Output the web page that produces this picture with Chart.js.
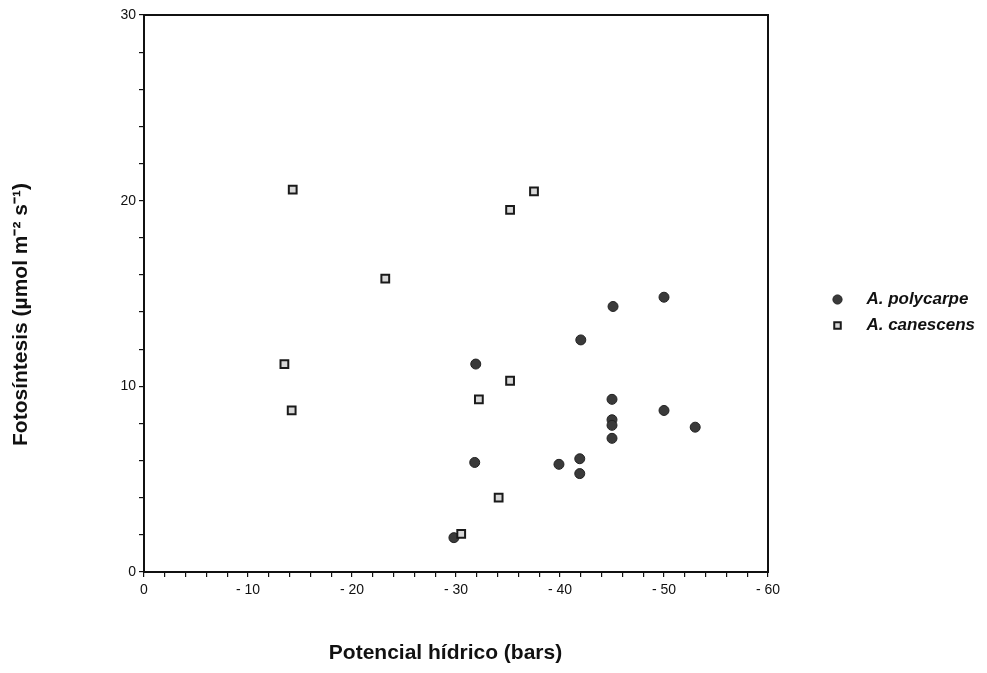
<!DOCTYPE html>
<html>
<head>
<meta charset="utf-8">
<script src="https://cdn.jsdelivr.net/npm/chart.js@4"></script>
<style>
  body { margin: 0; background: #fff; }
  #wrap { width: 987px; height: 673px; }
</style>
</head>
<body>
<div id="wrap"><canvas id="grafico"></canvas></div>
<script>
// datos (potencial hidrico en bars, fotosintesis en umol m-2 s-1)
const polycarpeX = [-45.1, -50.0, -42.0, -31.9, -45.0, -50.0, -45.0, -45.0, -53.0, -45.0, -31.8, -39.9, -41.9, -41.9, -29.8];
const polycarpeY = [14.3, 14.8, 12.5, 11.2, 9.3, 8.7, 8.2, 7.9, 7.8, 7.2, 5.9, 5.8, 6.1, 5.3, 1.85];

const canescensX = [-14.3, -23.2, -13.5, -14.2, -35.2, -37.5, -35.2, -32.2, -34.1, -30.5];
const canescensY = [20.6, 15.8, 11.2, 8.7, 19.5, 20.5, 10.3, 9.3, 4.0, 2.05];

const xTicks = [0, -10, -20, -30, -40, -50, -60];
const yTicks = [0, 10, 20, 30];

const toPoints = (xs, ys) => xs.map((x, i) => ({ x: x, y: ys[i] }));

const fuente = "'Liberation Sans', Arial, sans-serif";

// marco negro alrededor del area del grafico
const marco = {
    id: 'marco',
    beforeDatasetsDraw(chart) {
        const { ctx, chartArea: a } = chart;
        ctx.save();
        ctx.strokeStyle = '#111';
        ctx.lineWidth = 2;
        ctx.strokeRect(a.left, a.top, a.right - a.left, a.bottom - a.top);
        ctx.restore();
    }
};

const ctx = document.getElementById('grafico').getContext('2d');

new Chart(ctx, {
    type: 'scatter',
    data: {
        datasets: [{
            label: 'A. polycarpe',
            data: toPoints(polycarpeX, polycarpeY),
            pointStyle: 'circle',
            pointRadius: 5,
            backgroundColor: '#3a3a3a',
            borderColor: '#222',
            borderWidth: 1,
            order: 1
        }, {
            label: 'A. canescens',
            data: toPoints(canescensX, canescensY),
            pointStyle: 'rect',
            pointRadius: 5.5,
            backgroundColor: '#d8d8d8',
            borderColor: '#1a1a1a',
            borderWidth: 2,
            order: 0
        }]
    },
    options: {
        responsive: true,
        maintainAspectRatio: false,
        animation: false,
        layout: { padding: { top: 15, right: 3, bottom: 0, left: 0 } },
        plugins: {
            tooltip: { enabled: false },
            legend: {
                position: 'right',
                fullSize: false,
                title: { display: true, text: ' ', font: { size: 10 }, padding: 13 },
                labels: {
                    usePointStyle: true,
                    boxWidth: 17,
                    boxHeight: 6.5,
                    padding: 9,
                    color: '#111',
                    font: { family: fuente, size: 17, weight: 'bold', style: 'italic' },
                    sort: (a, b) => a.datasetIndex - b.datasetIndex,
                    generateLabels(chart) {
                        const items = Chart.defaults.plugins.legend.labels.generateLabels(chart);
                        items.forEach(it => { it.text = '\u2002\u2009' + it.text; });
                        return items;
                    }
                }
            }
        },
        scales: {
            x: {
                type: 'linear',
                reverse: true,
                min: -60,
                max: 0,
                border: { display: false },
                grid: { display: true, drawOnChartArea: false, drawTicks: true, tickLength: 5, color: '#111', lineWidth: 1.2 },
                ticks: {
                    stepSize: 2,
                    autoSkip: false,
                    maxRotation: 0,
                    padding: 5,
                    color: '#111',
                    font: { family: fuente, size: 14 },
                    callback: (v) => {
                        const r = Math.round(v);
                        if (!xTicks.includes(r)) return '';
                        return r === 0 ? '0' : '- ' + Math.abs(r);
                    }
                },
                title: {
                    display: true,
                    text: 'Potencial hídrico (bars)\u2002\u2002',
                    color: '#111',
                    font: { family: fuente, size: 21, weight: 'bold' },
                    padding: { top: 0, bottom: 7 }
                },
                afterFit(s) { s.height = 101; }
            },
            y: {
                type: 'linear',
                min: 0,
                max: 30,
                border: { display: false },
                grid: { display: true, drawOnChartArea: false, drawTicks: true, tickLength: 5, color: '#111', lineWidth: 1.2 },
                ticks: {
                    stepSize: 2,
                    autoSkip: false,
                    padding: 3,
                    color: '#111',
                    font: { family: fuente, size: 14 },
                    callback: (v) => {
                        const r = Math.round(v);
                        return yTicks.includes(r) ? String(r) : '';
                    }
                },
                title: {
                    display: true,
                    text: 'Fotosíntesis (µmol m⁻² s⁻¹)\u2002\u2002\u2002\u2002',
                    color: '#111',
                    font: { family: fuente, size: 21, weight: 'bold' },
                    padding: { top: 9, bottom: 0 }
                },
                afterFit(s) { s.width = 144; }
            },
            hueco: {
                type: 'linear',
                position: 'right',
                display: true,
                border: { display: false },
                grid: { display: false },
                ticks: { display: false },
                afterFit(s) { s.width = 52; }
            }
        }
    },
    plugins: [marco]
});
</script>
</body>
</html>
